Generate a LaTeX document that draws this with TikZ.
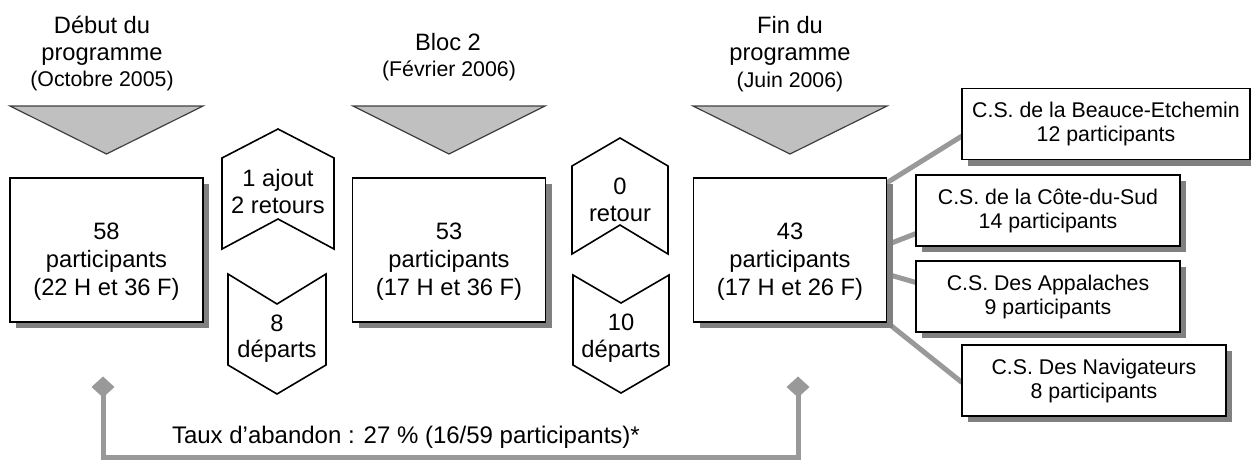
\documentclass[tikz,border=0pt]{standalone}
\usepackage{fontspec}
\setmainfont{Liberation Sans}
\usetikzlibrary{shadows,backgrounds,calc,shapes.geometric}
\definecolor{shadowgray}{RGB}{128,128,128}
\definecolor{linkgray}{RGB}{153,153,153}
\definecolor{trifill}{RGB}{192,192,192}
\definecolor{triline}{RGB}{64,64,64}
\begin{document}
\begin{tikzpicture}[x=1pt,y=-1pt,
  every node/.style={inner sep=0pt, outer sep=0pt},
  bigfont/.style={font=\fontsize{23.7}{28}\selectfont},
  midfont/.style={font=\fontsize{21.3}{24}\selectfont},
  txt/.style={bigfont, anchor=base},
  smalltxt/.style={midfont, anchor=base},
  boxshadow/.style={general shadow={fill=shadowgray, shadow xshift=6pt, shadow yshift=-6pt}},
  mainbox/.style={draw=black, line width=1.8pt, fill=white, minimum width=193pt, minimum height=144pt, boxshadow},
  csbox/.style={draw=black, line width=1.6pt, fill=white, minimum height=71pt, align=center, midfont, boxshadow},
  tri/.style={fill=trifill, draw=triline, line width=1.2pt, line join=miter},
  chev/.style={draw=black, line width=1.6pt, fill=white, line join=miter},
  link/.style={draw=linkgray, line width=5pt, line join=miter},
  tip/.style={diamond, fill=linkgray, minimum width=23pt, minimum height=21pt},
]
\useasboundingbox (0,0) rectangle (1251,459);

% titles
\node[txt] (t1a) at (102,33) {Début du};
\node[txt] (t1b) at (102,60) {programme};
\node[smalltxt] (t1c) at (102,86) {(Octobre 2005)};
\node[txt] (t2a) at (448,50) {Bloc 2};
\node[smalltxt] (t2b) at (449,76) {(Février 2006)};
\node[txt] (t3a) at (790,33) {Fin du};
\node[txt] (t3b) at (790,60) {programme};
\node[smalltxt] (t3c) at (790,87) {(Juin 2006)};

% triangles
\draw[tri] (10,106) -- (203,106) -- (106.5,154) -- cycle;
\draw[tri] (353,106) -- (545,106) -- (449,154) -- cycle;
\draw[tri] (693,106) -- (887,106) -- (790,154) -- cycle;

% main boxes
\node[mainbox] (b1) at (106.5,250) {};
\node[mainbox] (b2) at (449,250) {};
\node[mainbox] (b3) at (790,250) {};
\node[txt] (b1a) at (106.5,239) {58};
\node[txt] (b1b) at (106.5,267) {participants};
\node[txt] (b1c) at (106.5,295) {(22 H et 36 F)};
\node[txt] (b2a) at (449,239) {53};
\node[txt] (b2b) at (449,267) {participants};
\node[txt] (b2c) at (449,295) {(17 H et 36 F)};
\node[txt] (b3a) at (790,239) {43};
\node[txt] (b3b) at (790,267) {participants};
\node[txt] (b3c) at (790,295) {(17 H et 26 F)};

% chevrons
\draw[chev] (222,158) -- (278,129) -- (334,158) -- (334,249) -- (278,219) -- (222,249) -- cycle;
\draw[chev] (228,274) -- (277,304) -- (326,274) -- (326,365) -- (277,394) -- (228,365) -- cycle;
\draw[chev] (572,166) -- (620,138) -- (668,166) -- (668,254) -- (620,225) -- (572,254) -- cycle;
\draw[chev] (573,275) -- (621,303) -- (669,275) -- (669,365) -- (621,393) -- (573,365) -- cycle;
\node[txt] (c1a) at (278,186) {1 ajout};
\node[txt] (c1b) at (278,213) {2 retours};
\node[txt] (c2a) at (277,331) {8};
\node[txt] (c2b) at (277,357) {départs};
\node[txt] (c3a) at (620,194) {0};
\node[txt] (c3b) at (620,221) {retour};
\node[txt] (c4a) at (621,330) {10};
\node[txt] (c4b) at (621,357) {départs};

% school boards
\node[csbox, minimum width=288pt] (cs1) at (1106,124) {C.S. de la Beauce-Etchemin\\12 participants};
\node[csbox, minimum width=264pt] (cs2) at (1048,210.5) {C.S. de la Côte-du-Sud\\14 participants};
\node[csbox, minimum width=264pt] (cs3) at (1048,296.5) {C.S. Des Appalaches\\9 participants};
\node[csbox, minimum width=264pt] (cs4) at (1094,380.5) {C.S. Des Navigateurs\\8 participants};

% bracket
\node[tip] (dl) at (103,387) {};
\node[tip] (dr) at (798,387) {};
\coordinate (bl) at (103,457);
\coordinate (br) at (798,457);
\node[txt, anchor=base west, font=\fontsize{24}{28}\selectfont] (rate) at (172,443) {Taux d’abandon : 27 \% (16/59 participants)*};

\begin{scope}[on background layer]
  \draw[link] ($(b3.north east)+(0,5)$) -- ($(cs1.west)+(0,12)$);
  \draw[link] ($(b3.east)+(0,-5)$) -- ($(cs2.west)+(0,23)$);
  \draw[link] ($(b3.east)+(0,24)$) -- ($(cs3.west)+(0,-14)$);
  \draw[link] (b3.south east) -- ($(cs4.west)+(0,2)$);
  \draw[link] (dl.center) -- (bl) -- (br) -- (dr.center);
\end{scope}
\end{tikzpicture}
\end{document}
